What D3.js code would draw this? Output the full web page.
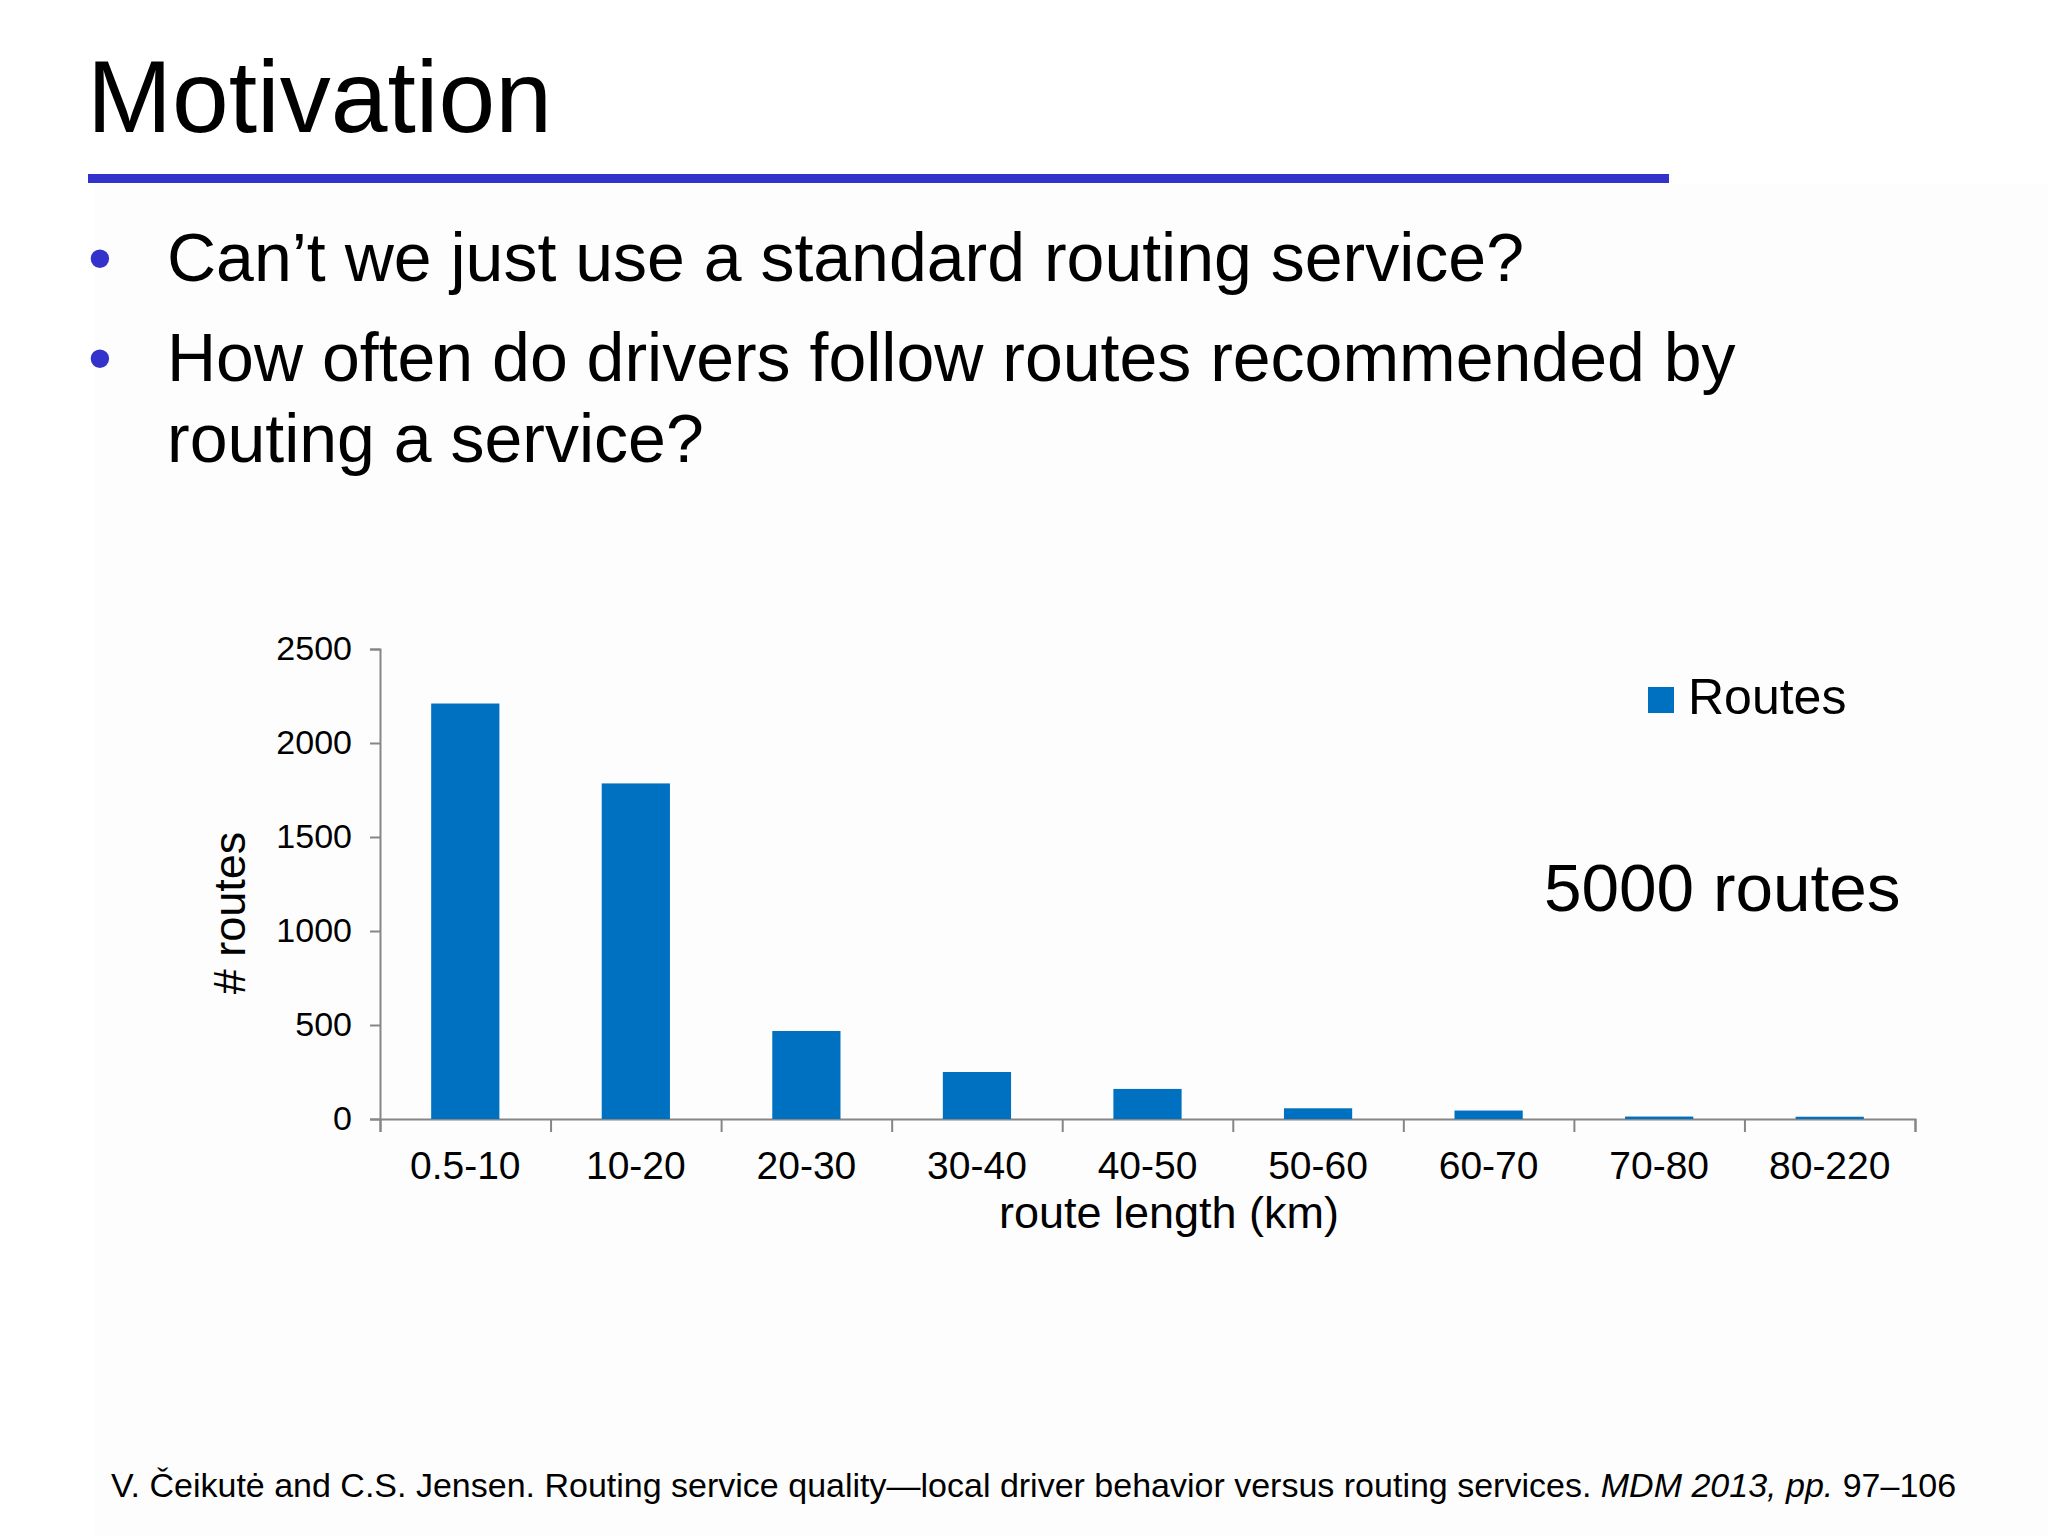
<!DOCTYPE html>
<html>
<head>
<meta charset="utf-8">
<script src="https://cdn.jsdelivr.net/npm/d3@7"></script>
<style>
  body { margin: 0; background: #ffffff; }
  svg { display: block; font-family: "Liberation Sans", Arial, sans-serif; }
</style>
</head>
<body>
<div id="slide"></div>
<script>
// Chart data
var categories = ["0.5-10", "10-20", "20-30", "30-40", "40-50", "50-60", "60-70", "70-80", "80-220"];
var routes = [2210, 1785, 468, 250, 160, 57, 45, 13, 12];
var yTicks = [0, 500, 1000, 1500, 2000, 2500];

var bullets = [
    ["Can\u2019t we just use a standard routing service?"],
    ["How often do drivers follow routes recommended by", "routing a service?"]
];

var svgWidth = 2048;
var svgHeight = 1536;

var svg = d3.select("#slide")
    .append("svg")
    .attr("width", svgWidth)
    .attr("height", svgHeight);

// faint content box
svg.append("rect")
    .attr("x", 95).attr("y", 184)
    .attr("width", svgWidth - 95).attr("height", svgHeight - 184)
    .attr("fill", "#fdfdfe");

// Title + rule
svg.append("text")
    .attr("x", 87).attr("y", 132)
    .attr("font-size", 102)
    .attr("fill", "#000")
    .text("Motivation");

svg.append("rect")
    .attr("x", 88).attr("y", 174)
    .attr("width", 1581).attr("height", 9)
    .attr("fill", "#3333cc");

// Bullets
var lineY = [[281], [381, 462]];
bullets.forEach(function(lines, i) {
    svg.append("text")
        .attr("x", 88).attr("y", lineY[i][0])
        .attr("font-size", 68)
        .attr("fill", "#3333cc")
        .text("\u2022");
    lines.forEach(function(line, j) {
        svg.append("text")
            .attr("x", 167).attr("y", lineY[i][j])
            .attr("font-size", 68)
            .attr("fill", "#000")
            .text(line);
    });
});

// Chart area
var margin = { top: 649, left: 380 };
var width = 1535;
var height = 470;

var chartGroup = svg.append("g")
    .attr("transform", `translate(${margin.left}, ${margin.top})`);

var xScale = d3.scaleBand()
    .domain(categories)
    .range([0, width])
    .paddingInner(0.6)
    .paddingOuter(0.3);

var yScale = d3.scaleLinear()
    .domain([0, 2500])
    .range([height, 0]);

var axisColor = "#868686";

// Y axis
var yAxis = chartGroup.append("g")
    .call(d3.axisLeft(yScale).tickValues(yTicks).tickFormat(d3.format("d")).tickSize(10).tickPadding(18));
yAxis.selectAll("text").attr("font-size", 34).attr("fill", "#000")
    .attr("font-family", "Liberation Sans, Arial, sans-serif");

// X axis: boundary tick marks
var edgeScale = d3.scaleLinear().domain([0, categories.length]).range([0, width]);
var xAxis = chartGroup.append("g")
    .attr("transform", `translate(0, ${height})`)
    .call(d3.axisBottom(edgeScale).ticks(categories.length).tickSize(13).tickFormat(""));

// X axis: category labels
var xLabels = chartGroup.append("g")
    .attr("transform", `translate(0, ${height})`)
    .call(d3.axisBottom(xScale).tickSize(0).tickPadding(32));
xLabels.select(".domain").remove();
xLabels.selectAll("text").attr("font-size", 39).attr("fill", "#000")
    .attr("font-family", "Liberation Sans, Arial, sans-serif");

[yAxis, xAxis].forEach(function(ax) {
    ax.selectAll(".domain, line").attr("stroke", axisColor).attr("stroke-width", 2);
});

// Bars
chartGroup.selectAll(".bar")
    .data(routes)
    .enter()
    .append("rect")
    .attr("class", "bar")
    .attr("x", (d, i) => xScale(categories[i]))
    .attr("y", d => yScale(d))
    .attr("width", xScale.bandwidth())
    .attr("height", d => height - yScale(d))
    .attr("fill", "#0070c0");

// Axis labels
chartGroup.append("text")
    .attr("x", 789).attr("y", 579)
    .attr("text-anchor", "middle")
    .attr("font-size", 45)
    .text("route length (km)");

chartGroup.append("text")
    .attr("transform", "rotate(-90)")
    .attr("x", -264).attr("y", -135)
    .attr("text-anchor", "middle")
    .attr("font-size", 45)
    .text("# routes");

// Legend
svg.append("rect")
    .attr("x", 1648).attr("y", 687)
    .attr("width", 26).attr("height", 26)
    .attr("fill", "#0070c0");
svg.append("text")
    .attr("x", 1688).attr("y", 714)
    .attr("font-size", 50)
    .text("Routes");

svg.append("text")
    .attr("x", 1544).attr("y", 911)
    .attr("font-size", 67.5)
    .text("5000 routes");

// Reference footer
var foot = svg.append("text")
    .attr("x", 111).attr("y", 1497)
    .attr("font-size", 34);
foot.append("tspan").text("V. \u010Ceikut\u0117 and C.S. Jensen. Routing service quality\u2014local driver behavior versus routing services. ");
foot.append("tspan").attr("font-style", "italic").text("MDM 2013, pp.");
foot.append("tspan").text(" 97\u2013106");
</script>
</body>
</html>
